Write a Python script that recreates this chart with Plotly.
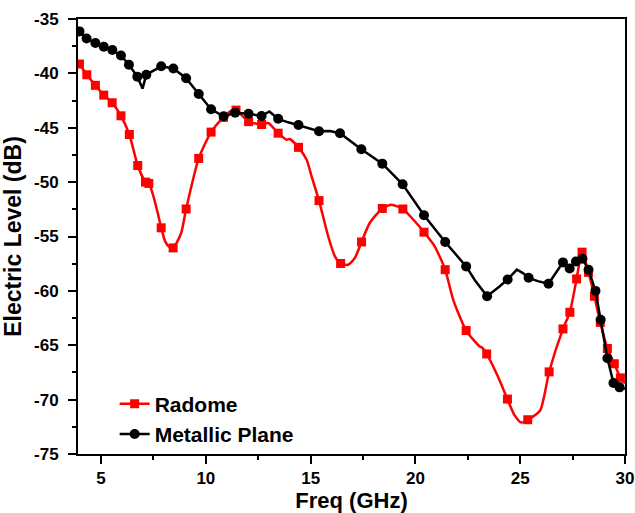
import plotly.graph_objects as go

# ---------------- data ----------------
radome_marker_freq = [3.97, 4.32, 4.73, 5.13, 5.53, 5.95, 6.35, 6.75, 7.12, 7.28, 7.87, 8.44,
                      9.06, 9.66, 10.25, 10.84, 11.44, 12.04, 12.66, 13.45, 14.42, 15.40, 16.43,
                      17.43, 18.42, 19.40, 20.41, 21.42, 22.42, 23.40, 24.39, 25.36, 26.38,
                      27.04, 27.37, 27.69, 27.95, 28.26, 28.54, 28.82, 29.16, 29.49, 29.78]
radome_marker_db = [-39.14, -40.13, -41.10, -42.00, -42.70, -43.90, -45.62, -48.47, -50.00, -50.12,
                    -54.20, -56.05, -52.47, -47.82, -45.40, -44.05, -43.38, -44.44, -44.70, -45.50,
                    -46.80, -51.70, -57.48, -55.50, -52.42, -52.47, -54.60, -58.05, -63.65, -65.80,
                    -69.95, -71.85, -67.45, -63.50, -61.97, -58.90, -56.44, -58.30, -60.50, -62.90,
                    -65.30, -66.70, -68.00]
radome_curve_freq = [7.50, 7.70, 8.06, 8.25, 8.82, 11.24, 12.98, 13.86, 14.00, 14.81, 15.05,
                     15.84, 16.16, 16.79, 17.11, 17.82, 18.86, 19.97, 20.92, 21.80, 23.06,
                     23.20, 23.93, 24.72, 25.05, 25.95, 30.00]
radome_curve_db = [-51.30, -52.80, -55.45, -55.95, -54.70, -43.40, -44.56, -46.10, -46.04, -47.94,
                   -49.50, -55.00, -56.83, -57.60, -56.98, -53.76, -52.08, -53.60, -55.90, -60.80,
                   -65.10, -65.25, -67.86, -71.40, -72.10, -71.00, -68.50]

metal_marker_freq = [3.97, 4.31, 4.73, 5.13, 5.54, 5.95, 6.33, 6.73, 7.16, 7.87, 8.45, 9.06,
                     9.66, 10.25, 10.85, 11.40, 12.04, 12.66, 13.45, 14.42, 15.40, 16.40, 17.42,
                     18.42, 19.39, 20.41, 21.42, 22.42, 23.42, 24.40, 25.40, 26.35, 27.04,
                     27.36, 27.66, 27.97, 28.26, 28.59, 28.84, 29.16, 29.45, 29.74]
metal_marker_db = [-36.14, -36.80, -37.20, -37.55, -37.85, -38.35, -39.20, -40.30, -40.12, -39.35,
                   -39.55, -40.45, -41.90, -43.30, -43.95, -43.62, -43.72, -43.92, -44.18, -44.75,
                   -45.32, -45.50, -46.97, -48.30, -50.20, -53.05, -55.50, -57.75, -60.50, -58.95,
                   -58.80, -59.35, -57.38, -57.95, -57.30, -57.05, -58.05, -60.00, -62.65, -66.20,
                   -68.47, -68.87]
metal_curve_freq = [6.98, 13.03, 13.93, 14.89, 15.92, 22.83, 24.01, 24.84, 25.13, 25.84, 30.00]
metal_curve_db = [-41.40, -43.50, -44.50, -45.00, -45.30, -59.00, -59.60, -58.05, -58.36, -59.10,
                  -69.00]

x_ticks = [5, 10, 15, 20, 25, 30]
y_ticks = [-75, -70, -65, -60, -55, -50, -45, -40, -35]
x_range = [3.9, 30]
y_range = [-75, -35]


def merged(mf, md, cf, cd, color):
    pts = [(f, d, True) for f, d in zip(mf, md)] + [(f, d, False) for f, d in zip(cf, cd)]
    pts.sort(key=lambda p: p[0])
    xs = [p[0] for p in pts]
    ys = [p[1] for p in pts]
    cols = [color if p[2] else "rgba(0,0,0,0)" for p in pts]
    return xs, ys, cols


FONT = "Liberation Sans, Arial, sans-serif"

fig = go.Figure()

rx, ry, rc = merged(radome_marker_freq, radome_marker_db, radome_curve_freq, radome_curve_db, "#FF0000")
fig.add_trace(go.Scatter(
    x=rx, y=ry, name="<b>Radome</b>", mode="lines+markers",
    line=dict(color="#FF0000", width=2.5, shape="spline", smoothing=0.6),
    marker=dict(symbol="square", size=9, color=rc, line=dict(width=0)),
))

mx, my, mc = merged(metal_marker_freq, metal_marker_db, metal_curve_freq, metal_curve_db, "#000000")
fig.add_trace(go.Scatter(
    x=mx, y=my, name="<b>Metallic Plane</b>", mode="lines+markers",
    line=dict(color="#000000", width=2.5),
    marker=dict(symbol="circle", size=10, color=mc, line=dict(width=0)),
))

fig.update_layout(
    width=635, height=513,
    margin=dict(l=78, r=10, t=19, b=59),
    paper_bgcolor="white", plot_bgcolor="white",
    font=dict(family=FONT, color="black"),
    xaxis=dict(
        showline=True, mirror=True, linecolor="black", linewidth=2, showgrid=False, zeroline=False,
        automargin=False, range=x_range, tickvals=x_ticks,
        ticktext=[f"<b>{v}</b>" for v in x_ticks],
        ticks="outside", ticklen=8, tickwidth=2, tickcolor="black",
        tickfont=dict(family=FONT, size=17, color="black"),
        minor=dict(dtick=2.5, tick0=0, ticks="outside", ticklen=4, tickwidth=2, tickcolor="black"),
        title=dict(text="<b>Freq (GHz)</b>", font=dict(family=FONT, size=22, color="black"), standoff=2),
    ),
    yaxis=dict(
        showline=True, mirror=True, linecolor="black", linewidth=2, showgrid=False, zeroline=False,
        automargin=False, range=y_range, tickvals=y_ticks,
        ticktext=[f"<b>{v}</b>" for v in y_ticks],
        ticks="outside", ticklen=8, tickwidth=2, tickcolor="black",
        ticklabelstandoff=6,
        tickfont=dict(family=FONT, size=17, color="black"),
        minor=dict(dtick=2.5, tick0=0, ticks="outside", ticklen=4, tickwidth=2, tickcolor="black"),
        title=dict(text="<b>Electric Level (dB)</b>", font=dict(family=FONT, size=23, color="black"), standoff=10),
    ),
    legend=dict(
        x=0.067, y=0.162, xanchor="left", yanchor="top",
        bgcolor="rgba(0,0,0,0)", borderwidth=0,
        font=dict(family=FONT, size=21, color="black"),
        tracegroupgap=0,
    ),
    showlegend=True,
)

fig.write_html("out.html", config={"displayModeBar": False},
               post_script="document.body.style.margin='0px';")
